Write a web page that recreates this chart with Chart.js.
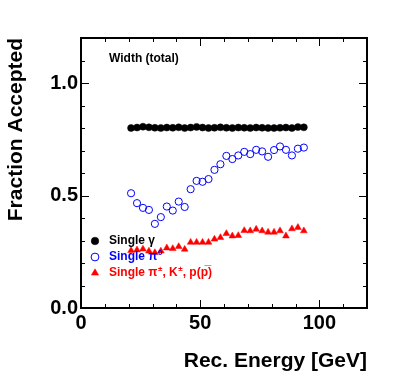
<!DOCTYPE html>
<html>
<head>
<meta charset="utf-8">
<script src="https://cdn.jsdelivr.net/npm/chart.js@4.4.0/dist/chart.umd.min.js"></script>
<style>
    html, body { margin: 0; padding: 0; background: #fff; }
    #wrap { width: 407px; height: 387px; }
</style>
</head>
<body>
<div id="wrap"><canvas id="grafico" width="407" height="387"></canvas></div>
<script>
// dados
const energias = [21, 23.5, 26, 28.5, 31, 33.5, 36, 38.5, 41, 43.5, 46, 48.5, 51, 53.5, 56,
    58.5, 61, 63.5, 66, 68.5, 71, 73.5, 76, 78.5, 81, 83.5, 86, 88.5, 91, 93.5]
const fracGama = [0.800, 0.802, 0.806, 0.803, 0.801, 0.800, 0.802, 0.801, 0.803, 0.800,
    0.802, 0.805, 0.802, 0.800, 0.801, 0.803, 0.801, 0.800, 0.802, 0.801,
    0.800, 0.802, 0.801, 0.800, 0.800, 0.801, 0.802, 0.800, 0.804, 0.803]
const fracPi0 = [0.510, 0.466, 0.445, 0.436, 0.374, 0.404, 0.451, 0.433, 0.473, 0.449,
    0.528, 0.565, 0.561, 0.573, 0.614, 0.639, 0.676, 0.662, 0.678, 0.694,
    0.684, 0.703, 0.696, 0.672, 0.702, 0.718, 0.703, 0.678, 0.708, 0.713]
const fracCarregados = [0.255, 0.258, 0.262, 0.253, 0.246, 0.253, 0.267, 0.264, 0.273, 0.261,
    0.292, 0.292, 0.292, 0.292, 0.306, 0.313, 0.331, 0.320, 0.322, 0.344,
    0.343, 0.350, 0.343, 0.337, 0.337, 0.343, 0.320, 0.352, 0.358, 0.343]
const nomesSeries = ['Single \u03B3', 'Single \u03C0\u2070', 'Single \u03C0\u00B1, K\u00B1, p(p\u0305)']
const coresSeries = ['#000000', '#0000ff', '#ff0000']
const tituloX = 'Rec. Energy [GeV]'
const tituloY = 'Fraction Accepted'
const rotulo = 'Width (total)'

Chart.defaults.font.family = '"Liberation Sans", Arial, sans-serif'
Chart.defaults.font.weight = 'bold'
Chart.defaults.color = '#000'

const fonteLegenda = 'bold 12px "Liberation Sans", Arial, sans-serif'
const fonteSobrescrito = 'bold 8px "Liberation Sans", Arial, sans-serif'
const sobrescritos = { '\u2070': '0', '\u00B1': '\u00B1' }

function pontos(ys) {
    return energias.map((e, i) => ({ x: e, y: ys[i] }))
}

// escreve o texto, subindo os caracteres de sobrescrito
function textoComSobrescrito(ctx, texto, x, y) {
    let cx = x
    for (const ch of texto) {
        if (sobrescritos[ch]) {
            ctx.font = fonteSobrescrito
            ctx.fillText(sobrescritos[ch], cx + 0.5, y - 4)
            cx += ctx.measureText(sobrescritos[ch]).width + 0.5
            ctx.font = fonteLegenda
        } else {
            ctx.fillText(ch, cx, y)
            cx += ctx.measureText(ch).width
        }
    }
}

// moldura e tiques para dentro, nos quatro lados (estilo ROOT)
const moldura = {
    id: 'moldura',
    afterDraw(chart) {
        const { ctx, chartArea: a, scales: { x, y } } = chart
        ctx.save()
        ctx.strokeStyle = '#000'
        ctx.lineWidth = 1
        ctx.beginPath()
        x.ticks.forEach(t => {
            const px = Math.round(x.getPixelForValue(t.value)) + 0.5
            const len = t.label !== '' ? 8 : 4
            ctx.moveTo(px, a.bottom); ctx.lineTo(px, a.bottom - len)
            ctx.moveTo(px, a.top); ctx.lineTo(px, a.top + len)
        })
        y.ticks.forEach(t => {
            const py = Math.round(y.getPixelForValue(t.value)) + 0.5
            const len = t.label !== '' ? 8 : 4
            ctx.moveTo(a.left, py); ctx.lineTo(a.left + len, py)
            ctx.moveTo(a.right, py); ctx.lineTo(a.right - len, py)
        })
        ctx.stroke()
        ctx.lineWidth = 2
        ctx.strokeRect(a.left, a.top, a.right - a.left, a.bottom - a.top)
        ctx.restore()
    }
}

// legenda dentro do grafico, canto inferior esquerdo
const legenda = {
    id: 'legenda',
    afterDraw(chart) {
        const { ctx, chartArea: a } = chart
        ctx.save()
        ctx.font = fonteLegenda
        ctx.textBaseline = 'middle'
        ctx.textAlign = 'left'
        ctx.fillStyle = '#000'
        ctx.fillText(rotulo, a.left + 28, a.top + 21)
        chart.data.datasets.forEach((ds, i) => {
            const yy = a.top + 203 + i * 16
            const xx = a.left + 14
            const r = ds.pointRadius + 0.3
            ctx.beginPath()
            if (ds.pointStyle === 'triangle') {
                ctx.moveTo(xx, yy - r)
                ctx.lineTo(xx + r * 0.866, yy + r / 2)
                ctx.lineTo(xx - r * 0.866, yy + r / 2)
                ctx.closePath()
            } else {
                ctx.arc(xx, yy, r, 0, Math.PI * 2)
            }
            ctx.fillStyle = ds.backgroundColor
            ctx.fill()
            ctx.strokeStyle = ds.borderColor
            ctx.lineWidth = ds.borderWidth
            if (ds.borderWidth > 0) ctx.stroke()
            ctx.fillStyle = coresSeries[i]
            ctx.font = fonteLegenda
            textoComSobrescrito(ctx, ds.label, a.left + 28, yy)
        })
        ctx.restore()
    }
}

new Chart(document.getElementById('grafico'), {
    type: 'scatter',
    data: {
        datasets: [{
            label: nomesSeries[0],
            data: pontos(fracGama),
            pointStyle: 'circle',
            pointRadius: 3.5,
            backgroundColor: coresSeries[0],
            borderColor: coresSeries[0],
            borderWidth: 0.5
        }, {
            label: nomesSeries[1],
            data: pontos(fracPi0),
            pointStyle: 'circle',
            pointRadius: 3.6,
            backgroundColor: 'rgba(0,0,0,0)',
            borderColor: coresSeries[1],
            borderWidth: 1
        }, {
            label: nomesSeries[2],
            data: pontos(fracCarregados),
            pointStyle: 'triangle',
            pointRadius: 3.9,
            backgroundColor: coresSeries[2],
            borderColor: coresSeries[2],
            borderWidth: 0.5
        }]
    },
    options: {
        responsive: false,
        animation: false,
        layout: { padding: { top: 38, right: 40, left: 0, bottom: 0 } },
        plugins: {
            legend: { display: false },
            tooltip: { enabled: false }
        },
        scales: {
            x: {
                type: 'linear',
                min: 0,
                max: 120,
                grid: { display: false, drawTicks: false },
                border: { display: false },
                ticks: {
                    stepSize: 10,
                    autoSkip: false,
                    maxRotation: 0,
                    padding: 3,
                    font: { size: 20, weight: 'bold' },
                    callback: v => (Math.round(v) % 50 === 0 ? String(Math.round(v)) : '')
                },
                title: {
                    display: true,
                    text: tituloX,
                    align: 'end',
                    font: { size: 21, weight: 'bold' },
                    padding: { top: 0, bottom: 13 }
                },
                afterFit: s => { s.height = 79 }
            },
            y: {
                type: 'linear',
                min: 0,
                max: 1.2,
                grid: { display: false, drawTicks: false },
                border: { display: false },
                ticks: {
                    stepSize: 0.1,
                    autoSkip: false,
                    padding: 3,
                    font: { size: 20, weight: 'bold' },
                    callback: v => (Math.round(v * 10) % 5 === 0 ? v.toFixed(1) : '')
                },
                title: {
                    display: true,
                    text: tituloY,
                    align: 'end',
                    font: { size: 21, weight: 'bold' },
                    padding: { top: 4, bottom: 0 }
                },
                afterFit: s => { s.width = 81 }
            }
        }
    },
    plugins: [moldura, legenda]
})
</script>
</body>
</html>
